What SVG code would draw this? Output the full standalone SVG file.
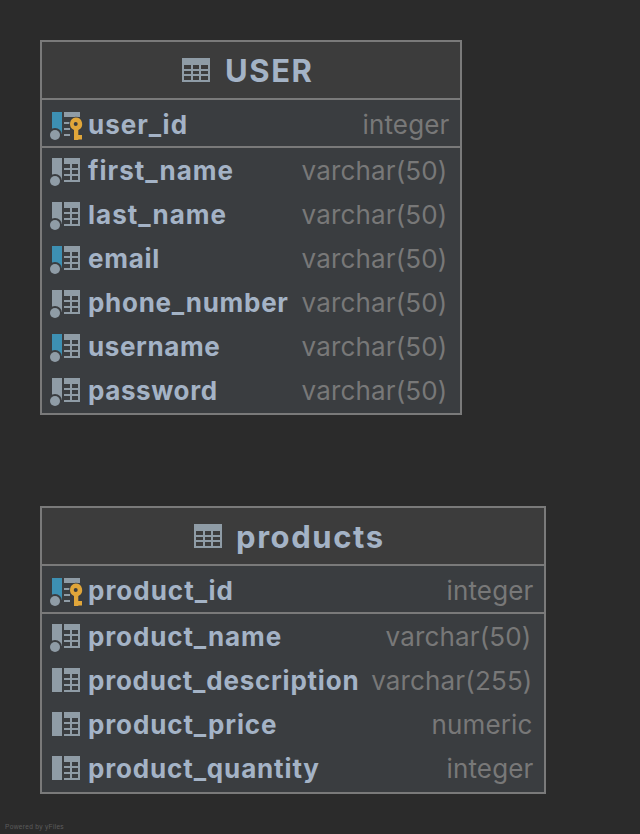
<svg xmlns="http://www.w3.org/2000/svg" width="640" height="834" viewBox="0 0 640 834">
<style>
.box{fill:#3a3d40;stroke:#7a7a7a;stroke-width:2}
.head{fill:#3c3c3c}
.sep{stroke:#7a7a7a;stroke-width:2;fill:none}
.title{font:bold 31px "Inter","Noto Sans",sans-serif;fill:#a4b3c6;letter-spacing:1.6px}
.n{font:bold 26px "Inter","Noto Sans",sans-serif;fill:#a4b3c6;letter-spacing:.72px}
.u{letter-spacing:1px}
.t{font:26px "Inter","Noto Sans",sans-serif;fill:#787878;text-anchor:end;letter-spacing:.15px}
.g{fill:#8f9ca6}
.b{fill:#3d90b3}
.r{fill:#3a3d40}
</style>
<defs>
<path id="grid" class="g" fill-rule="evenodd" d="M0 0h28v24H0zM2 7v4h7V7zM11 7v4h6V7zM19 7v4h7V7zM2 13v3h7v-3zM11 13v3h6v-3zM19 13v3h7v-3zM2 18v4h7v-4zM11 18v4h6v-4zM19 18v4h7v-4z"/>
<path id="cg" class="g" d="M12 0h16v24H12v-2h6v-4h-6v-2h6v-4h-6v-2h6V6h-6zM20 6v4h6V6zM20 12v4h6v-4zM20 18v4h6v-4z" fill-rule="evenodd"/>
<g id="col"><rect width="10" height="22" class="g"/><circle cx="3" cy="23" r="7" class="r"/><circle cx="3" cy="23" r="5" class="g"/><use href="#cg"/></g>
<g id="ucol"><rect width="10" height="22" class="b"/><circle cx="3" cy="23" r="7" class="r"/><circle cx="3" cy="23" r="5" class="g"/><use href="#cg"/></g>
<g id="nn"><rect width="10" height="24" class="g"/><use href="#cg"/></g>
<g id="pk"><rect width="10" height="22" class="b"/><circle cx="3" cy="23" r="7" class="r"/><circle cx="3" cy="23" r="5" class="g"/>
<path class="g" d="M12 0h16v5H12zM12 10h6v2h-6zM12 16h6v2h-6zM12 22h6v2h-6z"/>
<path fill="#e0a63a" stroke="#3a3d40" stroke-width="1.5" paint-order="stroke" fill-rule="evenodd" d="M23.7 5.5a6.5 6.5 0 0 1 2.6 12.45V23H30v4.5h-3.7V28H22V17.95A6.5 6.5 0 0 1 23.7 5.5zm0 4.5a2 2 0 1 0 0 4 2 2 0 0 0 0-4z"/></g>
</defs>
<rect width="640" height="834" fill="#2b2b2b"/>
<g id="connectors"></g>
<g id="node-user">
<rect class="box" x="41" y="41" width="420" height="373"/>
<rect class="head" x="42" y="42" width="418" height="57"/>
<path class="sep" d="M41 99H461M41 147H461"/>
<use href="#grid" x="182" y="58"/>
<text class="title" x="225" y="81.5">USER</text>
<use href="#pk" x="52" y="112"/><text class="n u" x="88" y="134">user_id</text><text class="t" x="449.5" y="134">integer</text>
<use href="#col" x="52" y="158"/><text class="n u" x="88" y="180">first_name</text><text class="t" x="447.5" y="180">varchar(50)</text>
<use href="#col" x="52" y="202"/><text class="n u" x="88" y="224">last_name</text><text class="t" x="447.5" y="224">varchar(50)</text>
<use href="#ucol" x="52" y="246"/><text class="n" x="88" y="268">email</text><text class="t" x="447.5" y="268">varchar(50)</text>
<use href="#col" x="52" y="290"/><text class="n" x="88" y="312">phone_number</text><text class="t" x="447.5" y="312">varchar(50)</text>
<use href="#ucol" x="52" y="334"/><text class="n" x="88" y="356" style="letter-spacing:.6px">username</text><text class="t" x="447.5" y="356">varchar(50)</text>
<use href="#col" x="52" y="378"/><text class="n" x="88" y="400" style="letter-spacing:.6px">password</text><text class="t" x="447.5" y="400">varchar(50)</text>
</g>
<g id="node-products">
<rect class="box" x="41" y="507" width="504" height="286"/>
<rect class="head" x="42" y="508" width="502" height="57"/>
<path class="sep" d="M41 565H545M41 613H545"/>
<use href="#grid" x="194" y="524"/>
<text class="title" x="236" y="547.5">products</text>
<use href="#pk" x="52" y="578"/><text class="n u" x="88" y="600">product_id</text><text class="t" x="533.5" y="600">integer</text>
<use href="#col" x="52" y="624"/><text class="n" x="88" y="646" style="letter-spacing:.88px">product_name</text><text class="t" x="531.5" y="646">varchar(50)</text>
<use href="#nn" x="52" y="668"/><text class="n" x="88" y="690" style="letter-spacing:.77px">product_description</text><text class="t" x="532.5" y="690">varchar(255)</text>
<use href="#nn" x="52" y="712"/><text class="n" x="88" y="734" style="letter-spacing:.88px">product_price</text><text class="t" x="532.5" y="734">numeric</text>
<use href="#nn" x="52" y="756"/><text class="n" x="88" y="778" style="letter-spacing:.85px">product_quantity</text><text class="t" x="533.5" y="778">integer</text>
</g>
<text x="5" y="829" font-family="Liberation Sans, sans-serif" font-size="6.6" letter-spacing=".3" fill="#5c5c5c">Powered by yFiles</text>
</svg>
